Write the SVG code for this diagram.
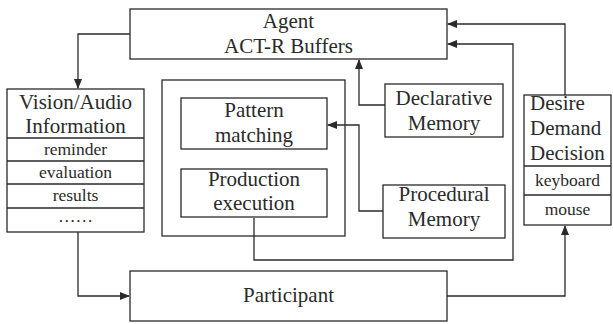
<svg xmlns="http://www.w3.org/2000/svg" width="613" height="324" viewBox="0 0 613 324">
<style>
.b{fill:#fff;stroke:#2a2a2a;stroke-width:1.3}
.f{fill:none;stroke:#2a2a2a;stroke-width:1.3}
.c{fill:none;stroke:#2a2a2a;stroke-width:1.3}
text{font-family:"Liberation Serif","Times New Roman",serif;fill:#2a2a2a}
.l{font-size:21px;text-anchor:middle}
.s{font-size:17.5px;text-anchor:middle}
.d{font-size:21px}
</style>
<defs>
<marker id="ah" markerWidth="10" markerHeight="8" refX="9" refY="4" orient="auto" markerUnits="userSpaceOnUse">
<path d="M0,0 L10,4 L0,8 Z" fill="#2a2a2a"/>
</marker>
</defs>
<rect width="613" height="324" fill="#fff"/>
<g id="agent">
<rect class="b" x="130" y="9" width="317" height="50"/>
<text class="l" x="288.5" y="28">Agent</text>
<text class="l" x="288.5" y="53">ACT-R Buffers</text>
</g>
<g id="vision">
<rect class="b" x="7" y="89" width="137" height="143"/>
<path class="c" d="M7,138 H144 M7,161 H144 M7,184 H144 M7,208 H144"/>
<text class="l" x="75.5" y="109">Vision/Audio</text>
<text class="l" x="75.5" y="133">Information</text>
<text class="s" x="75.5" y="155">reminder</text>
<text class="s" x="75.5" y="178">evaluation</text>
<text class="s" x="75.5" y="201">results</text>
<text class="s" x="75.5" y="222">……</text>
</g>
<g id="core">
<rect class="f" x="162" y="80" width="183" height="156"/>
</g>
<g id="pattern">
<rect class="b" x="181" y="98" width="146" height="51"/>
<text class="l" x="254" y="117">Pattern</text>
<text class="l" x="254" y="142">matching</text>
</g>
<g id="production">
<rect class="b" x="181" y="169" width="146" height="48"/>
<text class="l" x="254" y="186">Production</text>
<text class="l" x="254" y="210">execution</text>
</g>
<g id="declarative">
<rect class="b" x="385" y="84" width="118" height="53"/>
<text class="l" x="444" y="105">Declarative</text>
<text class="l" x="444" y="130">Memory</text>
</g>
<g id="procedural">
<rect class="b" x="383" y="185" width="122" height="53"/>
<text class="l" x="444" y="201">Procedural</text>
<text class="l" x="444" y="226">Memory</text>
</g>
<g id="desire">
<rect class="b" x="524" y="95" width="87" height="130"/>
<path class="c" d="M524,166 H611 M524,195 H611"/>
<text class="d" x="530" y="110">Desire</text>
<text class="d" x="530" y="135">Demand</text>
<text class="d" x="530" y="160">Decision</text>
<text class="s" x="567.5" y="186">keyboard</text>
<text class="s" x="567.5" y="215">mouse</text>
</g>
<g id="participant">
<rect class="b" x="130" y="271" width="317" height="50"/>
<text class="l" x="288.5" y="302">Participant</text>
</g>
<g id="connectors">
<path class="c" d="M130,34 H78 V88" marker-end="url(#ah)"/>
<path class="c" d="M78,232 V296 H129" marker-end="url(#ah)"/>
<path class="c" d="M447,296 H565 V226" marker-end="url(#ah)"/>
<path class="c" d="M565,95 V24 H448" marker-end="url(#ah)"/>
<path class="c" d="M254,218 V260 H513 V44 H448" marker-end="url(#ah)"/>
<path class="c" d="M385,105 H359 V60" marker-end="url(#ah)"/>
<path class="c" d="M383,211 H359 V125 H328" marker-end="url(#ah)"/>
</g>
</svg>
